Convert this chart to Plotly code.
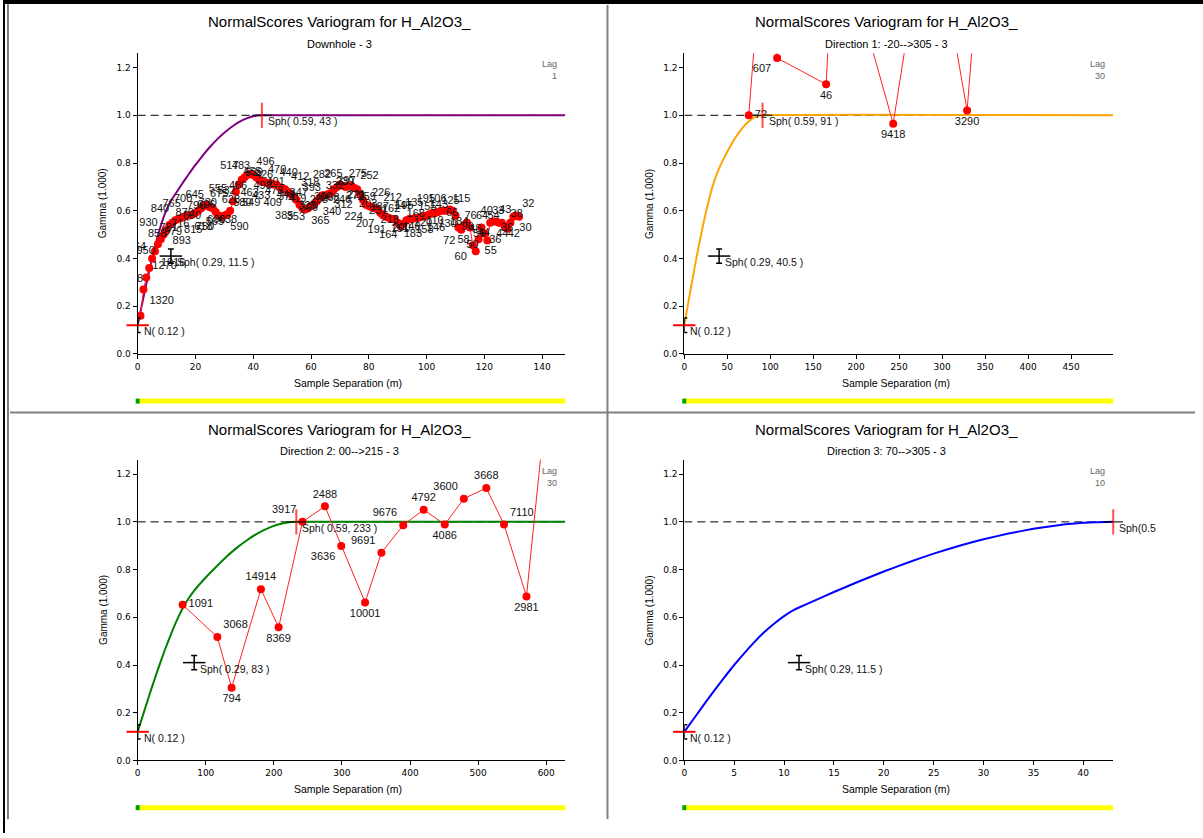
import plotly.graph_objects as go

W, H = 1203, 838

# ---------------- model parameters ----------------
nugget = 0.12
sill1 = 0.29
sill2 = 0.59
range1 = [11.5, 40.5, 83, 11.5]
range2 = [43, 91, 233, 43]

titles = ["NormalScores Variogram for H_Al2O3_"] * 4
subtitles = ["Downhole - 3", "Direction 1: -20-->305 - 3",
             "Direction 2: 00-->215 - 3", "Direction 3: 70-->305 - 3"]
lags = ["1", "30", "30", "10"]
model_colors = ["#800080", "#FFA500", "#008000", "#0000FF"]
x_max = [148, 499, 628, 43]
x_dtick = [20, 50, 100, 5]

# ---------------- model curves ----------------
m_dh_x = [0, 1, 2, 3, 4, 5, 6, 7, 8, 9, 10, 11, 11.5, 13, 15, 17.5, 20, 22.5, 25, 27.5,
          30, 32.5, 35, 37.5, 40, 43, 148]
m_dh_y = [0.12, 0.178, 0.236, 0.293, 0.347, 0.400, 0.449, 0.495, 0.537, 0.573, 0.605, 0.631,
          0.641, 0.669, 0.706, 0.750, 0.792, 0.831, 0.867, 0.899, 0.927, 0.951, 0.971, 0.986,
          0.996, 1.0, 1.0]
m_d1_x = [0, 5, 10, 15, 20, 25, 30, 35, 40.5, 45, 50, 55, 60, 65, 70, 75, 80, 85, 91, 499]
m_d1_y = [0.12, 0.222, 0.322, 0.418, 0.509, 0.591, 0.665, 0.726, 0.778, 0.812, 0.847, 0.880,
          0.909, 0.935, 0.957, 0.974, 0.988, 0.996, 1.0, 1.0]
m_d2_x = [0, 10, 20, 30, 40, 50, 60, 70, 83, 100, 115, 130, 145, 160, 175, 190, 205, 220, 233, 628]
m_d2_y = [0.12, 0.210, 0.299, 0.384, 0.464, 0.537, 0.603, 0.658, 0.712, 0.767, 0.811, 0.853,
          0.890, 0.922, 0.950, 0.972, 0.988, 0.997, 1.0, 1.0]
m_d3_x = m_dh_x[:-1]
m_d3_y = m_dh_y[:-1]

# ---------------- experimental variograms ----------------
dh_lag = list(range(1, 133))
dh_gamma = [
    0.16, 0.27, 0.32, 0.36, 0.40, 0.43, 0.46, 0.48, 0.50, 0.52,
    0.54, 0.55, 0.56, 0.565, 0.57, 0.575, 0.58, 0.58, 0.585, 0.59,
    0.60, 0.61, 0.62, 0.625, 0.615, 0.61, 0.595, 0.58, 0.575, 0.58,
    0.585, 0.60, 0.64, 0.68, 0.71, 0.73, 0.74, 0.75, 0.755, 0.75,
    0.74, 0.73, 0.72, 0.72, 0.715, 0.715, 0.71, 0.71, 0.70, 0.695,
    0.69, 0.68, 0.67, 0.66, 0.645, 0.625, 0.61, 0.605, 0.61, 0.62,
    0.625, 0.64, 0.655, 0.665, 0.665, 0.67, 0.675, 0.69, 0.70, 0.71,
    0.705, 0.70, 0.705, 0.705, 0.695, 0.69, 0.67, 0.645, 0.625, 0.62,
    0.615, 0.61, 0.605, 0.59, 0.58, 0.575, 0.57, 0.565, 0.565, 0.55,
    0.535, 0.545, 0.56, 0.565, 0.565, 0.57, 0.57, 0.575, 0.575, 0.58,
    0.585, 0.59, 0.59, 0.595, 0.60, 0.60, 0.60, 0.605, 0.60, 0.58,
    0.53, 0.52, 0.54, 0.55, 0.53, 0.455, 0.43, 0.48, 0.53, 0.505,
    0.475, 0.55, 0.555, 0.555, 0.55, 0.55, 0.535, 0.525, 0.55, 0.575,
    0.58, 0.575]
dh_pairs = [
    1367, 1320, 1270, 1118, 1064, 1016, 979, 950, 930, 893,
    870, 858, 840, 815, 790, 781, 765, 750, 730, 716,
    700, 690, 675, 660, 645, 638, 628, 618, 606, 590,
    580, 565, 555, 549, 539, 532, 517, 498, 496, 486,
    483, 478, 470, 463, 455, 448, 440, 433, 426, 419,
    412, 409, 401, 399, 393, 385, 371, 365, 360, 353,
    347, 340, 332, 325, 318, 312, 297, 288, 282, 279,
    275, 268, 265, 259, 252, 246, 239, 231, 226, 224,
    221, 218, 212, 207, 203, 200, 195, 191, 187, 183,
    168, 164, 162, 158, 155, 151, 147, 146, 143, 140,
    135, 130, 125, 120, 195, 184, 115, 110, 106, 96,
    76, 72, 66, 56, 64, 60, 58, 55, 54, 50,
    48, 44, 43, 44, 40, 42, 38, 36, 33, 30, 32, 36]

# points above the gamma range have no visible pair-count label
d1_lag = [75, 88, 108, 165, 195, 213, 243, 285, 329, 345]
d1_gamma = [1.0, 1.6, 1.24, 1.13, 3.2, 1.35, 0.965, 1.93, 1.02, 1.75]
d1_pairs = ["72", "", "607", "46", "", "", "9418", "", "3290", ""]

d2_lag = [66, 117, 138, 181, 207, 242, 275, 299, 334, 358, 390, 420, 451, 479, 512, 538, 571, 600]
d2_gamma = [0.653, 0.517, 0.305, 0.718, 0.558, 1.0, 1.065, 0.899, 0.6625, 0.871, 0.986, 1.051,
            0.989, 1.097, 1.142, 0.989, 0.6875, 1.5]
d2_pairs = ["1091", "3068", "794", "14914", "8369", "3917", "2488", "3636", "10001", "9691",
            "9676", "4792", "4086", "3600", "3668", "7110", "2981", ""]

# ---------------- label placement (style) ----------------
dh_pos_cycle = ["top left", "bottom right", "top right", "bottom left"]
d1_pos = ["middle right", "top right", "bottom left", "bottom center", "top center",
          "top center", "bottom center", "top center", "bottom center", "top center"]
d2_pos = ["middle right", "top right", "bottom center", "top center", "bottom center",
          "top left", "top center", "bottom left", "bottom center", "top left", "top left",
          "top center", "bottom center", "top left", "top center", "top right",
          "bottom center", "top center"]

# ---------------- layout geometry (pixels) ----------------
def px_x(p):
    return p / W

def px_y(p):
    return 1 - p / H

Y_TOP = 1.26
PX_PER_Y = 240
col_x = [(135, 563.7), (683, 1113)]
row_y0 = [356, 765]  # pixel of gamma=0

panels = [(0, 0), (1, 0), (0, 1), (1, 1)]  # (col, row)

fig = go.Figure()

FONT = "Liberation Sans"
TICKFONT = dict(family="DejaVu Sans", size=9, color="#000000")

exp_x = [dh_lag, d1_lag, d2_lag, None]
exp_y = [dh_gamma, d1_gamma, d2_gamma, None]
exp_t = [[str(v) for v in dh_pairs], d1_pairs, d2_pairs, None]
exp_pos = [[dh_pos_cycle[i % 4] for i in range(len(dh_lag))], d1_pos, d2_pos, None]
mod_x = [m_dh_x, m_d1_x, m_d2_x, m_d3_x]
mod_y = [m_dh_y, m_d1_y, m_d2_y, m_d3_y]

annotations = []
shapes = []

for i, (c, r) in enumerate(panels):
    xa = "x" if i == 0 else f"x{i+1}"
    ya = "y" if i == 0 else f"y{i+1}"
    xl, xr = col_x[c]
    y0p = row_y0[r]
    ytp = y0p - Y_TOP * PX_PER_Y
    xkey = "xaxis" if i == 0 else f"xaxis{i+1}"
    ykey = "yaxis" if i == 0 else f"yaxis{i+1}"
    fig.layout[xkey] = dict(
        domain=[px_x(xl), px_x(xr)], range=[0, x_max[i]], anchor=ya,
        showgrid=False, zeroline=False, showline=True, linecolor="#000000", linewidth=1,
        ticks="outside", ticklen=4, tickcolor="#000000", dtick=x_dtick[i], tick0=0,
        tickfont=TICKFONT, fixedrange=True)
    fig.layout[ykey] = dict(
        domain=[px_y(y0p), px_y(ytp)], range=[0, Y_TOP], anchor=xa,
        showgrid=False, zeroline=False, showline=True, linecolor="#000000", linewidth=1,
        ticks="outside", ticklen=4, tickcolor="#000000", dtick=0.2, tick0=0,
        tickformat=".1f", tickfont=TICKFONT, fixedrange=True)

    # sill dashed line
    fig.add_trace(go.Scatter(x=[0, x_max[i]], y=[nugget + sill1 + sill2] * 2, mode="lines",
                             line=dict(color="#000000", width=1, dash="8px,5px"),
                             xaxis=xa, yaxis=ya, hoverinfo="skip", showlegend=False))
    # model curve
    fig.add_trace(go.Scatter(x=mod_x[i], y=mod_y[i], mode="lines",
                             line=dict(color=model_colors[i], width=2, shape="spline", smoothing=0.4),
                             xaxis=xa, yaxis=ya, hoverinfo="skip", showlegend=False))
    # experimental
    if exp_x[i] is not None:
        fig.add_trace(go.Scatter(x=exp_x[i], y=exp_y[i], mode="lines+markers+text",
                                 text=exp_t[i], textposition=exp_pos[i],
                                 textfont=dict(family=FONT, size=11, color="#111111"),
                                 line=dict(color="#FF2020", width=1),
                                 marker=dict(color="#FF0000", size=8),
                                 xaxis=xa, yaxis=ya, hoverinfo="skip", showlegend=False))

    # nugget glyph
    fig.add_trace(go.Scatter(x=[0], y=[nugget], mode="markers",
                             marker=dict(symbol="line-ew", size=16, line=dict(color="#FF0000", width=2)),
                             error_y=dict(type="data", array=[0.03], color="#000000", thickness=1.5, width=3),
                             cliponaxis=False, xaxis=xa, yaxis=ya, hoverinfo="skip", showlegend=False))
    # structure 1 glyph
    fig.add_trace(go.Scatter(x=[range1[i]], y=[nugget + sill1], mode="markers",
                             marker=dict(symbol="line-ew", size=16, line=dict(color="#000000", width=1.5)),
                             error_y=dict(type="data", array=[0.03], color="#000000", thickness=1.5, width=3),
                             cliponaxis=False, xaxis=xa, yaxis=ya, hoverinfo="skip", showlegend=False))
    # structure 2 glyph
    fig.add_trace(go.Scatter(x=[range2[i], range2[i]], y=[nugget + sill1 + sill2] * 2, mode="markers",
                             marker=dict(symbol=["line-ew", "line-ns"], size=[14, 18],
                                         line=dict(color=["#000000", "#FF0000"], width=[1.5, 2])),
                             cliponaxis=False, xaxis=xa, yaxis=ya, hoverinfo="skip", showlegend=False))

    lab_font = dict(family=FONT, size=10.5, color="#111111")
    annotations.append(dict(x=0, y=nugget, xref=xa, yref=ya, text=f"N( {nugget:.2f} )",
                            showarrow=False, xanchor="left", yanchor="middle", xshift=4, yshift=-6,
                            font=lab_font))
    annotations.append(dict(x=range1[i], y=nugget + sill1, xref=xa, yref=ya,
                            text=f"Sph( {sill1:.2f}, {range1[i]:g} )",
                            showarrow=False, xanchor="left", yanchor="middle", xshift=4, yshift=-6,
                            font=lab_font))
    s2_text = f"Sph( {sill2:.2f}, {range2[i]:g} )" if i != 3 else "Sph(0.5"
    annotations.append(dict(x=range2[i], y=nugget + sill1 + sill2, xref=xa, yref=ya,
                            text=s2_text, showarrow=False, xanchor="left", yanchor="middle",
                            xshift=4, yshift=-6, font=lab_font))

    # titles
    cx = (xl + xr) / 2 - 12
    top = 0 if r == 0 else 410
    annotations.append(dict(x=px_x(cx), y=px_y(top + 22), xref="paper", yref="paper",
                            text=titles[i], showarrow=False, xanchor="center", yanchor="middle",
                            font=dict(family=FONT, size=15, color="#000000")))
    annotations.append(dict(x=px_x(cx), y=px_y(top + 44), xref="paper", yref="paper",
                            text=subtitles[i], showarrow=False, xanchor="center", yanchor="middle",
                            font=dict(family=FONT, size=11, color="#000000")))
    # lag label
    annotations.append(dict(x=px_x(xr - 6), y=px_y(ytp + 4), xref="paper", yref="paper",
                            text=f"Lag<br>{lags[i]}", showarrow=False, xanchor="right", yanchor="top",
                            align="right", font=dict(family=FONT, size=9, color="#666666")))
    # axis titles
    annotations.append(dict(x=px_x((xl + xr) / 2 - 3), y=px_y(y0p + 29), xref="paper", yref="paper",
                            text="Sample Separation (m)", showarrow=False, xanchor="center",
                            yanchor="middle", font=dict(family=FONT, size=10.5, color="#000000")))
    annotations.append(dict(x=px_x(xl - 35), y=px_y((y0p + ytp) / 2), xref="paper", yref="paper",
                            text="Gamma (1.000)", showarrow=False, textangle=-90, xanchor="center",
                            yanchor="middle", font=dict(family=FONT, size=10, color="#000000")))
    # yellow progress bar
    shapes.append(dict(type="rect", xref="paper", yref="paper", x0=px_x(xl), x1=px_x(xr),
                       y0=px_y(y0p + 50), y1=px_y(y0p + 45), fillcolor="#FFFF00", line=dict(width=0)))
    shapes.append(dict(type="rect", xref="paper", yref="paper", x0=px_x(xl - 2), x1=px_x(xl + 2),
                       y0=px_y(y0p + 50), y1=px_y(y0p + 45), fillcolor="#00A000", line=dict(width=0)))

# separators and frame
shapes.append(dict(type="line", xref="paper", yref="paper", x0=px_x(606), x1=px_x(606),
                   y0=px_y(5), y1=px_y(824), line=dict(color="#808080", width=2)))
shapes.append(dict(type="line", xref="paper", yref="paper", x0=px_x(7), x1=px_x(1195),
                   y0=px_y(415), y1=px_y(415), line=dict(color="#808080", width=2)))
shapes.append(dict(type="rect", xref="paper", yref="paper", x0=0, x1=1, y0=px_y(4), y1=1,
                   fillcolor="#000000", line=dict(width=0)))
shapes.append(dict(type="line", xref="paper", yref="paper", x0=px_x(1), x1=px_x(1),
                   y0=0, y1=1, line=dict(color="#000000", width=2)))
shapes.append(dict(type="line", xref="paper", yref="paper", x0=px_x(5), x1=px_x(5),
                   y0=px_y(824), y1=1, line=dict(color="#000000", width=1)))

fig.update_layout(width=W, height=H, margin=dict(l=0, r=0, t=0, b=0),
                  paper_bgcolor="#FFFFFF", plot_bgcolor="#FFFFFF",
                  annotations=annotations, shapes=shapes, showlegend=False)

fig.write_html("out.html", config={"displayModeBar": False},
               post_script="document.body.style.margin='0';document.body.style.overflow='hidden';")
